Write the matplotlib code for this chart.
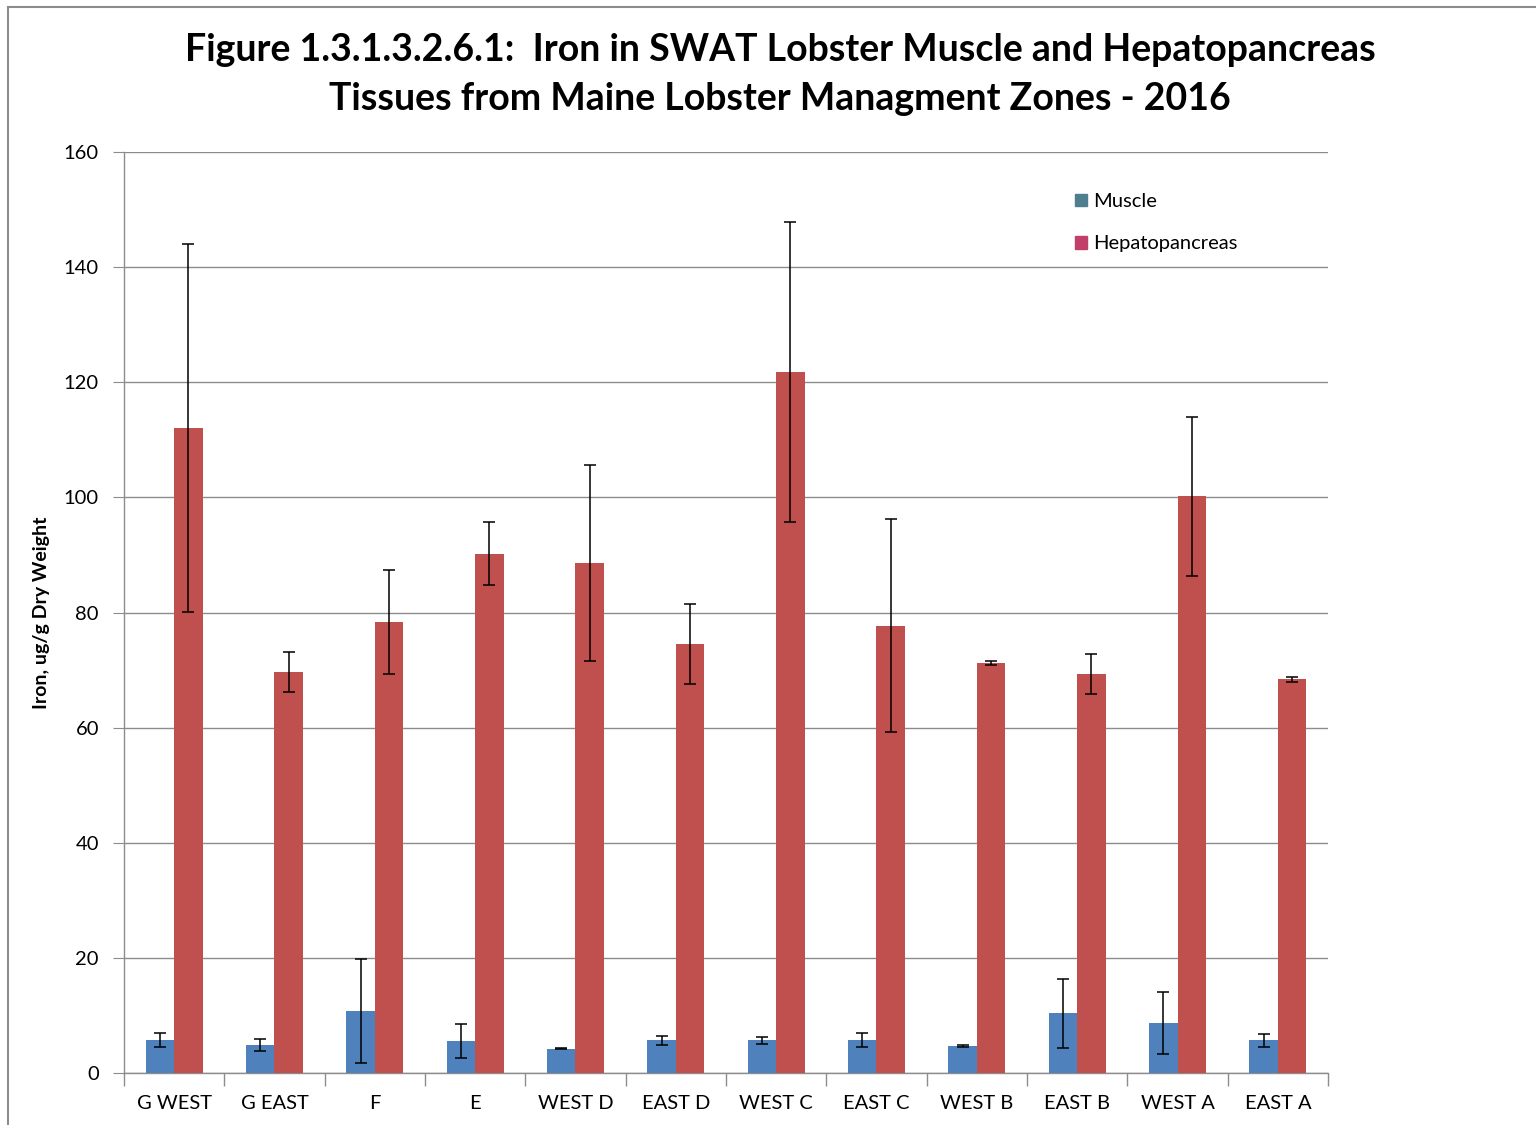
import numpy as np
import matplotlib
matplotlib.use("Agg")
import matplotlib.pyplot as plt
from matplotlib.patches import Patch, Rectangle

# %% DATA
zones = ["G WEST", "G EAST", "F", "E", "WEST D", "EAST D",
         "WEST C", "EAST C", "WEST B", "EAST B", "WEST A", "EAST A"]
muscle = [5.7, 4.9, 10.8, 5.6, 4.2, 5.7, 5.7, 5.7, 4.7, 10.4, 8.7, 5.7]
muscle_err = [1.2, 1.0, 9.0, 3.0, 0.1, 0.8, 0.6, 1.2, 0.1, 6.0, 5.4, 1.1]
hepato = [112.1, 69.7, 78.4, 90.2, 88.6, 74.5, 121.8, 77.7, 71.2, 69.3, 100.2, 68.4]
hepato_err = [32.0, 3.5, 9.0, 5.5, 17.0, 7.0, 26.0, 18.5, 0.4, 3.5, 13.8, 0.4]

plt.rcParams["font.family"] = ["Lato", "DejaVu Sans"]

# %% PLOT
fig = plt.figure(figsize=(15.36, 11.25), dpi=100)
ax = fig.add_axes([0.0807, 0.0462, 0.7839, 0.8187])

x = np.arange(len(zones))
w = 0.285
ax.bar(x - w / 2, muscle, w, color="#4F81BD", zorder=3)
ax.bar(x + w / 2, hepato, w, color="#C0504D", zorder=3)
ax.errorbar(x - w / 2, muscle, yerr=muscle_err, fmt="none", ecolor="black",
            elinewidth=1.1, capsize=4.5, capthick=1.1, zorder=4)
ax.errorbar(x + w / 2, hepato, yerr=hepato_err, fmt="none", ecolor="black",
            elinewidth=1.1, capsize=4.5, capthick=1.1, zorder=4)

ax.set_xlim(-0.5, len(zones) - 0.5)
ax.set_ylim(0, 160)
ax.set_yticks(np.arange(0, 161, 20))
ax.yaxis.grid(True, color="#8c8c8c", linewidth=1.0, zorder=0)
ax.set_xticks(x)
ax.set_xticklabels(zones, fontsize=14.5)
ax.set_xticks(np.arange(-0.5, len(zones)), minor=True)
ax.tick_params(axis="x", which="major", length=0, pad=16)
ax.tick_params(axis="x", which="minor", length=9, color="#8c8c8c", width=1.0)
ax.tick_params(axis="y", length=8, color="#8c8c8c", labelsize=14.5, pad=10)
for s in ["top", "right"]:
    ax.spines[s].set_visible(False)
for s in ["left", "bottom"]:
    ax.spines[s].set_color("#8c8c8c")
    ax.spines[s].set_linewidth(1.0)

ax.set_ylabel("Iron, ug/g Dry Weight", fontsize=14, fontweight="bold", labelpad=10)

fig.text(0.508, 0.971, "Figure 1.3.1.3.2.6.1:  Iron in SWAT Lobster Muscle and Hepatopancreas\n"
         "Tissues from Maine Lobster Managment Zones - 2016",
         ha="center", va="top", fontsize=27, fontweight="bold", linespacing=1.55)

handles = [Patch(color="#4F7F8F", label="Muscle"),
           Patch(color="#C0406A", label="Hepatopancreas")]
ax.legend(handles=handles, loc="upper left", bbox_to_anchor=(0.775, 0.975),
          frameon=False, fontsize=14.5, handlelength=0.6, handleheight=0.6,
          handletextpad=0.3, labelspacing=1.25)

# chart border
fig.add_artist(Rectangle((0.005, -0.01), 1.2, 1.004, transform=fig.transFigure,
                         fill=False, edgecolor="#8c8c8c", linewidth=1.5))

fig.savefig("out.png", dpi=100)
